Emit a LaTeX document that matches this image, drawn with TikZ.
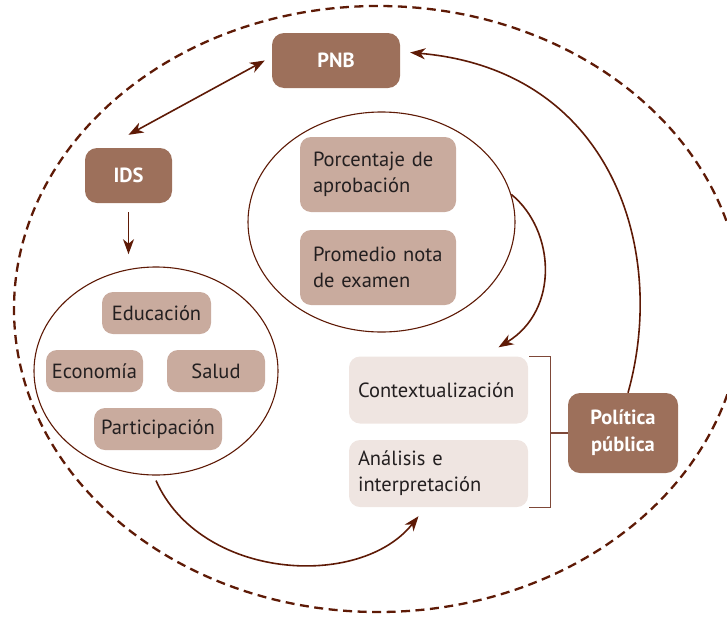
\documentclass[tikz,border=0pt]{standalone}
\usepackage{fontspec}
\setmainfont{PT Sans}
\usetikzlibrary{arrows.meta,shapes.geometric}
\definecolor{brickdark}{HTML}{9D705B}
\definecolor{brickmid}{HTML}{C9AB9E}
\definecolor{bricklight}{HTML}{EFE5E1}
\definecolor{linebrown}{HTML}{5E1A06}
\definecolor{inkgray}{HTML}{231F20}

\begin{document}
\begin{tikzpicture}
		[x=1pt, y=-1pt,
		>={Stealth[length=15pt, width=11pt, inset=4.5pt]},
		every node/.style={font=\fontsize{20.5}{26}\selectfont, text=inkgray},
		link/.style={draw=linebrown, line width=1.6pt},
		bracket/.style={draw=linebrown!80, line width=1.3pt},
		ring/.style={draw=linebrown, line width=2.3pt, dash pattern=on 9pt off 5.5pt},
		indicator/.style={fill=brickdark, rounded corners=12pt, text=white, font=\fontsize{20.5}{27}\selectfont\bfseries, minimum height=55pt},
		factor/.style={fill=brickmid, rounded corners=11pt, minimum height=42pt, inner sep=0pt},
		measure/.style={fill=brickmid, rounded corners=11pt, minimum height=75pt, text width=130pt, inner xsep=13pt, align=left},
		phase/.style={fill=bricklight, rounded corners=11pt, minimum height=67pt, text width=161pt, inner xsep=9pt, align=left},
		group/.style={ellipse, draw=linebrown, line width=1.1pt, inner sep=0pt}
		]
		\useasboundingbox (0,0) rectangle (727,616);
		\draw[ring] (378,309) ellipse [x radius=364, y radius=303];
		\begin{scope}
			\node[indicator, minimum width=128pt] (pnb) at (336,60.5) {PNB};
			\node[indicator, minimum width=87pt] (ids) at (128.5,175.5) {IDS};
			\node[group, minimum width=244pt, minimum height=208pt] (idsset) at (156,371) {};
			\node[factor, minimum width=109pt] (edu) at (156.5,313) {Educación};
			\node[factor, minimum width=97pt] (eco) at (94.5,371) {Economía};
			\node[factor, minimum width=98pt] (salud) at (216,371) {Salud};
			\node[factor, minimum width=128pt] (part) at (158,429) {Participación};
			\node[group, minimum width=267pt, minimum height=220pt] (pctset) at (381.5,222) {};
			\node[measure] (pct) at (378,174.5) {Porcentaje de\\aprobación};
			\node[measure] (prom) at (378,267.5) {Promedio nota\\de examen};
			\node[phase] (context) at (438.5,390) {Contextualización};
			\node[phase] (analisis) at (438.5,473.5) {Análisis e\\interpretación};
			\node[indicator, minimum width=110pt, minimum height=80pt, align=center] (politica) at (623,433) {Política\\pública};
			\coordinate (brk) at (550,433);
		\end{scope}
		\draw[link, <->] ([yshift=13pt]ids.north) -- ([xshift=-7pt]pnb.west);
		\draw[link, ->] ([yshift=-9pt]ids.south) -- ([yshift=-51pt]ids.south);
		\draw[link, ->] ([yshift=-5pt]idsset.south) .. controls (200,580) and (360,590) .. ([xshift=-20pt, yshift=-9pt]analisis.south);
		\draw[link, ->] (pctset.12) .. controls (555,230) and (560,310) .. ([xshift=60pt, yshift=9pt]context.north);
		\draw[link, ->] ([xshift=5pt]politica.north) .. controls (668,250) and (612,70) .. ([xshift=10pt, yshift=8pt]pnb.east);
		\draw[bracket] ([xshift=1pt]context.north east) -| ([xshift=22pt]analisis.south east) -- ([xshift=1pt]analisis.south east);
		\draw[bracket] (brk) -- (politica.west);
	\end{tikzpicture}
\end{document}
